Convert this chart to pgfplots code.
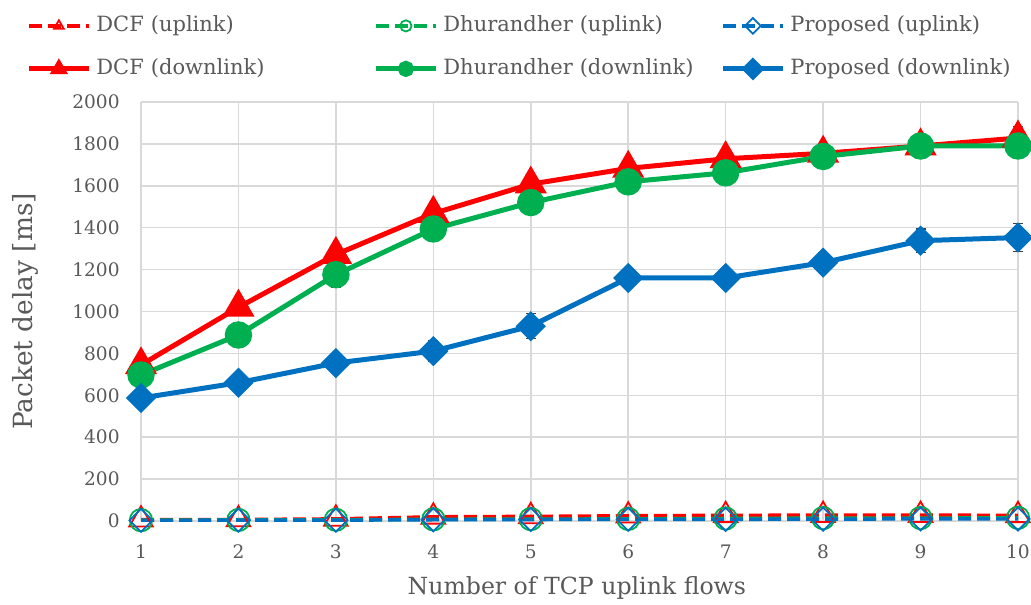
\documentclass[border=0pt]{standalone}
\usepackage{fontspec}
\setmainfont{DejaVu Serif}
\usepackage{pgfplots}
\usepackage{pgfplotstable}
\pgfplotsset{compat=1.18}
\definecolor{cred}{RGB}{255,0,0}
\definecolor{cgreen}{RGB}{0,176,80}
\definecolor{cblue}{RGB}{0,112,192}
\definecolor{ctext}{RGB}{89,89,89}
\definecolor{cgrid}{RGB}{217,217,217}
\definecolor{cerr}{RGB}{64,64,64}

\pgfplotstableread{
x dcf dcfe dhu dhue pro proe
1 745 0 697 0 587 0
2 1020 0 888 0 660 0
3 1272 0 1176 60 754 0
4 1468 35 1394 0 811 50
5 1608 35 1520 0 930 60
6 1683 38 1619 0 1160 0
7 1729 36 1662 0 1160 45
8 1755 0 1740 0 1233 48
9 1790 0 1790 0 1338 55
10 1828 55 1790 0 1353 66
}\down

\pgfplotstableread{
x dcf dhu pro
1 6 4 3
2 7 5 4
3 10 6 4
4 20 8 6
5 22 9 7
6 25 10 8
7 27 12 8
8 28 14 9
9 28 14 10
10 27 15 10
}\up

\pgfplotsset{
  errplot/.style={forget plot, draw=none, mark=none, on layer=pre main,
    error bars/.cd, y dir=both, y explicit,
    error bar style={draw=cerr, line width=0.7pt},
    error mark options={draw=cerr, rotate=90, mark size=2.5pt, line width=0.7pt}},
}

\begin{document}
\begin{tikzpicture}
\begin{axis}[
  name=ax,
  set layers,
  scale only axis,
  width=438.5pt, height=209.5pt,
  xmin=1, xmax=10, ymin=0, ymax=2000,
  xtick={1,...,10}, ytick={0,200,...,2000},
  grid=major,
  major grid style={color=cgrid, line width=0.75pt},
  axis line style={draw=none},
  major tick length=0pt,
  /pgf/number format/assume math mode=true,
  /pgf/number format/set thousands separator={},
  tick label style={font=\fontsize{9.3}{11}\selectfont, color=ctext},
  yticklabel style={anchor=east, inner sep=0pt, xshift=-10.5pt},
  xticklabel style={anchor=center, inner sep=0pt, yshift=-15.5pt},
  label style={color=ctext},
  xlabel={Number of TCP uplink flows},
  ylabel={Packet delay [ms]},
  xlabel style={font=\fontsize{11.8}{14}\selectfont, at={(axis description cs:0.497,-0.160)}, anchor=center},
  ylabel style={font=\fontsize{13.2}{15}\selectfont, at={(axis description cs:-0.1323,0.5)}, anchor=center, rotate=0},
  legend columns=3,
  legend cell align=left,
  legend style={draw=none, fill=none, at={(axis description cs:0,1)}, anchor=north west,
    xshift=-60.5pt, yshift=45.5pt,
    font=\fontsize{10.5}{12.5}\selectfont, text=ctext,
    row sep=11pt,
    nodes={inner sep=0pt, text height=8pt, text depth=2.5pt},
    /tikz/every odd column/.append style={column sep=2.5pt},
    /tikz/every even column/.append style={text width=138.5pt, column sep=0pt}},
  legend image code/.code={\draw[mark repeat=2, mark phase=2] plot coordinates {(0pt,0pt) (15pt,0pt) (30pt,0pt)};},
  legend image post style={mark size=2.8pt},
]
% uplink
\addplot[cred, line width=1.75pt, dash pattern=on 6.5pt off 3pt, mark=triangle, mark size=6.8pt, mark options={solid, line width=0.9pt}]
  table[x=x, y=dcf] {\up};
\addlegendentry{DCF (uplink)}
\addplot[cgreen, line width=1.75pt, dash pattern=on 6.5pt off 3pt, mark=o, mark size=5.6pt, mark options={solid, line width=0.9pt}]
  table[x=x, y=dhu] {\up};
\addlegendentry{Dhurandher (uplink)}
\addplot[cblue, line width=1.75pt, dash pattern=on 6.5pt off 3pt, mark=square, mark size=4.1pt, mark options={solid, rotate=45, line width=0.9pt}]
  table[x=x, y=pro] {\up};
\addlegendentry{Proposed (uplink)}
% downlink
\addplot[errplot] table[x=x, y=dcf, y error=dcfe] {\down};
\addplot[cred, line width=2.5pt, mark=triangle*, mark size=6.8pt]
  table[x=x, y=dcf] {\down};
\addlegendentry{DCF (downlink)}
\addplot[errplot] table[x=x, y=dhu, y error=dhue] {\down};
\addplot[cgreen, line width=2.5pt, mark=*, mark size=5.6pt]
  table[x=x, y=dhu] {\down};
\addlegendentry{Dhurandher (downlink)}
\addplot[errplot] table[x=x, y=pro, y error=proe] {\down};
\addplot[cblue, line width=2.5pt, mark=square*, mark size=4.1pt, mark options={rotate=45}]
  table[x=x, y=pro] {\down};
\addlegendentry{Proposed (downlink)}
\end{axis}
\pgfresetboundingbox
\path[use as bounding box] ([xshift=-70.5pt, yshift=-41.5pt]ax.south west) rectangle ([xshift=6.5pt, yshift=51pt]ax.north east);
\end{tikzpicture}
\end{document}
